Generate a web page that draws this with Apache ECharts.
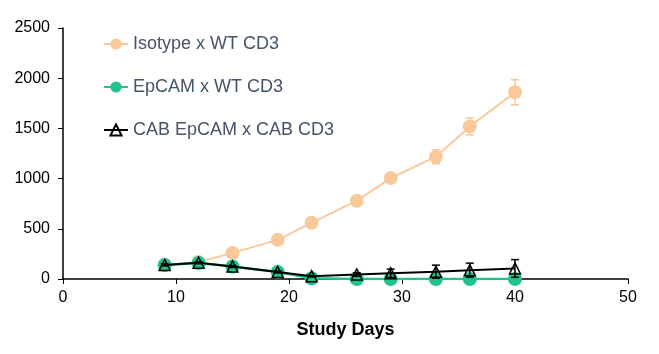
<!DOCTYPE html>
<html>
<head>
<meta charset="utf-8">
<script src="https://cdn.jsdelivr.net/npm/echarts@6/dist/echarts.min.js"></script>
<style>
  html, body { margin: 0; padding: 0; background: #fff; }
  #chart { width: 659px; height: 354px; }
</style>
</head>
<body>
<div id="chart"></div>
<script>
// study days and group means / error bars
const days = [9, 12, 15, 19, 22, 26, 29, 33, 36, 40];
const isotype = [140, 170, 260, 390, 560, 780, 1005, 1218, 1520, 1860];
const isotypeErr = [10, 10, 15, 20, 20, 25, 30, 70, 85, 125];
const epcam = [140, 160, 125, 70, 8, 0, 0, 0, 0, 0];
const cab = [140, 162, 125, 70, 28, 45, 57, 73, 88, 105];
const cabErr = [10, 10, 10, 10, 8, 18, 42, 65, 70, 88];

const peach = '#f9c99c';
const green = '#1fc48c';

const pairs = (ys) => days.map((d, i) => [d, ys[i]]);
const errData = (ys, es) => days.map((d, i) => [d, ys[i] - es[i], ys[i] + es[i]]);

function errorBar(color) {
  return function (params, api) {
    const x = api.value(0);
    const lo = api.coord([x, api.value(1)]);
    const hi = api.coord([x, api.value(2)]);
    const style = { stroke: color, lineWidth: 1.5 };
    return {
      type: 'group',
      children: [
        { type: 'line', shape: { x1: lo[0], y1: lo[1], x2: hi[0], y2: hi[1] }, style },
        { type: 'line', shape: { x1: hi[0] - 4, y1: hi[1], x2: hi[0] + 4, y2: hi[1] }, style },
        { type: 'line', shape: { x1: lo[0] - 4, y1: lo[1], x2: lo[0] + 4, y2: lo[1] }, style }
      ]
    };
  };
}

const chart = echarts.init(document.getElementById('chart'));
chart.setOption({
  animation: false,
  textStyle: { fontFamily: 'Liberation Sans, Arial, sans-serif' },
  grid: { left: 63, right: 31, top: 28, bottom: 75 },
  legend: {
    orient: 'vertical',
    left: 98,
    top: 30,
    itemGap: 25,
    itemWidth: 24,
    itemHeight: 14,
    textStyle: { fontSize: 18, color: '#44546a' },
    data: ['Isotype x WT CD3', 'EpCAM x WT CD3', 'CAB EpCAM x CAB CD3']
  },
  xAxis: {
    type: 'value',
    min: 0,
    max: 50,
    interval: 10,
    name: 'Study Days',
    nameLocation: 'middle',
    nameGap: 42,
    nameTextStyle: { fontSize: 18, fontWeight: 'bold', color: '#000' },
    axisLine: { lineStyle: { color: '#000', width: 1.5 } },
    axisTick: { show: true, length: 5, lineStyle: { color: '#000' } },
    axisLabel: { fontSize: 16, color: '#000', margin: 11 },
    splitLine: { show: false }
  },
  yAxis: {
    type: 'value',
    min: 0,
    max: 2500,
    interval: 500,
    axisLine: { show: true, lineStyle: { color: '#000', width: 1.5 } },
    axisTick: { show: true, length: 5, lineStyle: { color: '#000' } },
    axisLabel: { fontSize: 16, color: '#000', margin: 13, formatter: (v) => String(v) },
    splitLine: { show: false }
  },
  series: [
    {
      type: 'custom',
      renderItem: errorBar(peach),
      data: errData(isotype, isotypeErr),
      z: 1,
      silent: true
    },
    {
      name: 'Isotype x WT CD3',
      type: 'line',
      data: pairs(isotype),
      symbol: 'circle',
      symbolSize: 14,
      lineStyle: { color: peach, width: 2 },
      itemStyle: { color: peach },
      z: 2
    },
    {
      name: 'EpCAM x WT CD3',
      type: 'line',
      data: pairs(epcam),
      symbol: 'circle',
      symbolSize: 14,
      lineStyle: { color: green, width: 2.5 },
      itemStyle: { color: green },
      z: 3
    },
    {
      type: 'custom',
      renderItem: errorBar('#000'),
      data: errData(cab, cabErr),
      z: 4,
      silent: true
    },
    {
      name: 'CAB EpCAM x CAB CD3',
      type: 'line',
      data: pairs(cab),
      symbol: 'triangle',
      symbolSize: 11,
      lineStyle: { color: '#000', width: 2 },
      itemStyle: { color: 'rgba(255,255,255,0)', borderColor: '#000', borderWidth: 1.5 },
      z: 5
    }
  ]
});
</script>
</body>
</html>
